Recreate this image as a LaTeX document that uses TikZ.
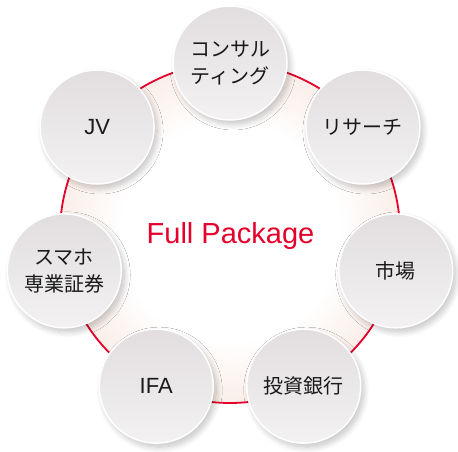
\documentclass[tikz,border=0pt]{standalone}
\usepackage{fontspec}
\setmainfont{Liberation Sans}
\newfontfamily\cjk{Noto Sans CJK JP}
\usetikzlibrary{shadows.blur,calc}
\definecolor{ringred}{RGB}{228,0,43}
\definecolor{peach}{RGB}{250,238,232}
\definecolor{ctop}{RGB}{226,222,224}
\definecolor{cbot}{RGB}{243,241,242}
\definecolor{txt}{RGB}{25,25,25}
\pgfdeclareradialshading{glow}{\pgfpoint{0bp}{0bp}}{color(0bp)=(white); color(16bp)=(white); color(25bp)=(peach); color(50bp)=(peach)}
\begin{document}
\begin{tikzpicture}[x=1pt,y=1pt,
  bubble/.style={circle, minimum size=114pt, inner sep=0pt, draw=white, line width=1.5pt,
    top color=ctop, bottom color=cbot,
    blur shadow={shadow xshift=3pt, shadow yshift=-4pt, shadow blur radius=6pt, shadow blur steps=12, shadow opacity=24},
    text=txt, align=center},
  jp/.style={font=\cjk\fontsize{20}{27}\selectfont},
  lat/.style={font=\fontsize{22}{26}\selectfont}]
\useasboundingbox (0,0) rectangle (458,451);
\coordinate (c) at (230,218);
\shade[shading=glow] (c) circle (170);
\draw[ringred, line width=1.8pt] (c) circle (170);
\node[anchor=base, text=ringred, font=\fontsize{29}{32}\selectfont] (fp) at (230.5,207.7) {Full Package};
\node[bubble,jp] (n0) at ($(c)+(90:170)$) {コンサル\\ティング};
\node[bubble,jp] (n1) at ($(c)+({90-1*360/7}:170)$) {リサーチ};
\node[bubble,jp] (n2) at ($(c)+({90-2*360/7}:170)$) {市場};
\node[bubble,jp] (n3) at ($(c)+({90-3*360/7}:170)$) {投資銀行};
\node[bubble,lat] (n4) at ($(c)+({90-4*360/7}:170)$) {IFA};
\node[bubble,jp] (n5) at ($(c)+({90-5*360/7}:170)$) {スマホ\\専業証券};
\node[bubble,lat] (n6) at ($(c)+({90-6*360/7}:170)$) {JV};
\end{tikzpicture}
\end{document}
